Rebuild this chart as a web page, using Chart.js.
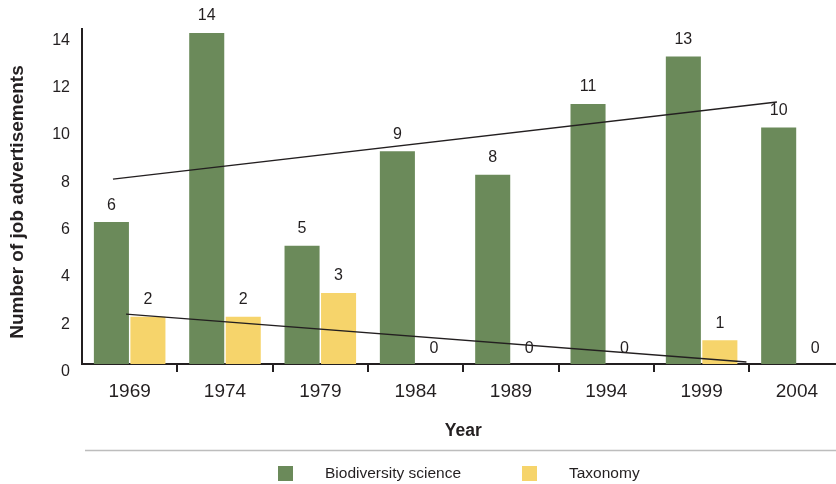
<!DOCTYPE html>
<html>
<head>
<meta charset="utf-8">
<script src="https://cdn.jsdelivr.net/npm/chart.js@4.4.1/dist/chart.umd.min.js"></script>
<style>
  html, body { margin: 0; padding: 0; background: #ffffff; overflow: hidden; }
  #wrap { position: relative; width: 850px; height: 484px; }
  #over { position: absolute; left: 0; top: 0; width: 850px; height: 484px; pointer-events: none; }
</style>
</head>
<body>
<div id="wrap"><canvas id="c"></canvas><div id="over"><canvas id="t"></canvas></div></div>
<script>
// ---- data ----
const years = ['1969', '1974', '1979', '1984', '1989', '1994', '1999', '2004'];
const biodiversity = [6, 14, 5, 9, 8, 11, 13, 10];
const taxonomy = [2, 2, 3, 0, 0, 0, 1, 0];
const yTicks = [0, 2, 4, 6, 8, 10, 12, 14];
// trend lines (position along the year axis in category units from the left edge, value)
const bioTrendX = [0.325, 7.29];
const bioTrendY = [7.82, 11.08];
const taxTrendX = [0.462, 6.97];
const taxTrendY = [2.11, 0.085];

const FONT = "'Liberation Sans', Arial, sans-serif";
const TXT = '#231f20';
const GREEN = '#6b8a5a';
const YELLOW = '#f6d46b';
const Y_MAX = 14.15;
const PAD = { left: 82, right: 5.4, top: 29.4, bottomAxis: 120 };

const valueLabels = {
  id: 'valueLabels',
  afterDatasetsDraw(chart) {
    const ctx = chart.ctx;
    ctx.save();
    ctx.font = '16px ' + FONT;
    ctx.fillStyle = TXT;
    ctx.textAlign = 'center';
    ctx.textBaseline = 'middle';
    chart.data.datasets.forEach((ds, i) => {
      const meta = chart.getDatasetMeta(i);
      meta.data.forEach((bar, j) => {
        const v = ds.data[j];
        ctx.fillText(String(v), bar.x, bar.y - (v === 0 ? 15 : 17));
      });
    });
    ctx.restore();
  }
};

const customLegend = {
  id: 'customLegend',
  afterDraw(chart) {
    const ctx = chart.ctx;
    ctx.save();
    ctx.strokeStyle = '#bdbdbd';
    ctx.lineWidth = 1.5;
    ctx.beginPath();
    ctx.moveTo(85, 450.5);
    ctx.lineTo(850, 450.5);
    ctx.stroke();
    const items = [
      { label: chart.data.datasets[0].label, color: chart.data.datasets[0].backgroundColor, x: 278 },
      { label: chart.data.datasets[1].label, color: chart.data.datasets[1].backgroundColor, x: 522 }
    ];
    ctx.font = '15.5px ' + FONT;
    ctx.textBaseline = 'middle';
    ctx.textAlign = 'left';
    items.forEach(it => {
      ctx.fillStyle = it.color;
      ctx.fillRect(it.x, 466, 15, 15);
      ctx.fillStyle = TXT;
      ctx.fillText(it.label, it.x + 47, 474);
    });
    ctx.restore();
  }
};

// main bar chart
new Chart(document.getElementById('c'), {
  type: 'bar',
  data: {
    labels: years,
    datasets: [
      { label: 'Biodiversity science', data: biodiversity, backgroundColor: GREEN,
        categoryPercentage: 0.766, barPercentage: 0.96 },
      { label: 'Taxonomy', data: taxonomy, backgroundColor: YELLOW,
        categoryPercentage: 0.766, barPercentage: 0.96 }
    ]
  },
  options: {
    responsive: true,
    maintainAspectRatio: false,
    animation: false,
    layout: { padding: { left: 0, right: PAD.right, top: PAD.top, bottom: 0 } },
    plugins: { legend: { display: false }, tooltip: { enabled: false } },
    scales: {
      x: {
        type: 'category',
        offset: true,
        grid: {
          offset: true, drawOnChartArea: false, drawTicks: true, tickLength: 8,
          lineWidth: 2,
          color: (c) => (c.index === 0 ? 'rgba(0,0,0,0)' : TXT)
        },
        border: { display: true, color: TXT, width: 2 },
        ticks: { color: TXT, font: { family: FONT, size: 19 }, padding: 8, maxRotation: 0 },
        title: { display: true, text: 'Year', color: TXT,
          font: { family: FONT, size: 17.5, weight: 'bold' }, padding: { top: 0, bottom: 42 } },
        afterFit: (s) => { s.height = PAD.bottomAxis; }
      },
      y: {
        min: 0, max: Y_MAX,
        afterBuildTicks: (s) => { s.ticks = yTicks.map(v => ({ value: v })); },
        grid: { display: false, drawTicks: false },
        border: { display: true, color: TXT, width: 2 },
        ticks: { color: TXT, font: { family: FONT, size: 16 }, padding: 12, labelOffset: 7.5 },
        title: { display: true, text: 'Number of job advertisements  ', color: TXT,
          font: { family: FONT, size: 19, weight: 'bold' }, padding: { top: 6, bottom: 0 } },
        afterFit: (s) => { s.width = PAD.left; }
      }
    }
  },
  plugins: [valueLabels, customLegend]
});

// overlay: trend lines on a linear year axis sharing the same plot area
new Chart(document.getElementById('t'), {
  type: 'line',
  data: {
    datasets: [
      { label: 'Biodiversity trend', data: bioTrendX.map((x, i) => ({ x: x, y: bioTrendY[i] })),
        borderColor: TXT, borderWidth: 1.3, pointRadius: 0, fill: false, clip: false },
      { label: 'Taxonomy trend', data: taxTrendX.map((x, i) => ({ x: x, y: taxTrendY[i] })),
        borderColor: TXT, borderWidth: 1.3, pointRadius: 0, fill: false, clip: false }
    ]
  },
  options: {
    responsive: true,
    maintainAspectRatio: false,
    animation: false,
    layout: { padding: { left: PAD.left, right: PAD.right, top: PAD.top, bottom: PAD.bottomAxis } },
    plugins: { legend: { display: false }, tooltip: { enabled: false } },
    scales: {
      x: { type: 'linear', display: false, min: 0, max: years.length, offset: false },
      y: { type: 'linear', display: false, min: 0, max: Y_MAX }
    }
  }
});
</script>
</body>
</html>
